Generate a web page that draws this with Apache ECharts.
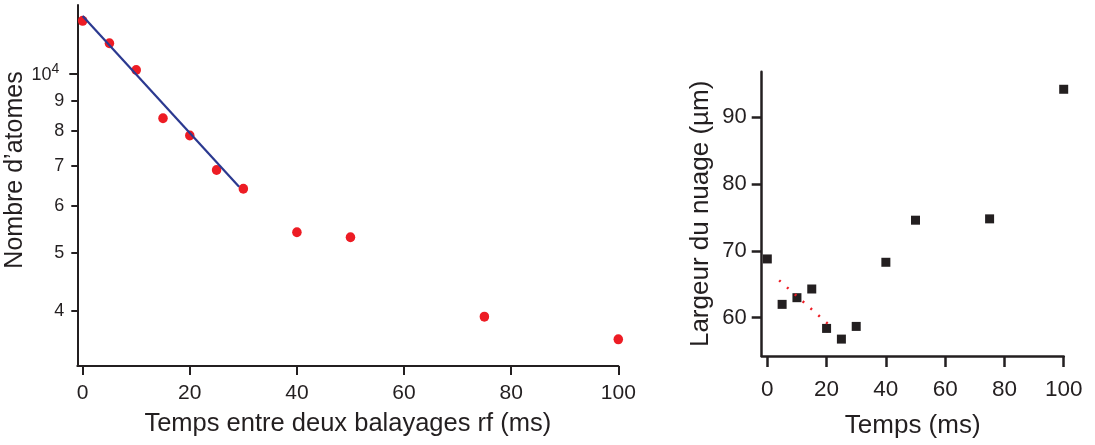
<!DOCTYPE html>
<html>
<head>
<meta charset="utf-8">
<script src="https://cdn.jsdelivr.net/npm/echarts@6/dist/echarts.min.js"></script>
<style>
html,body{margin:0;padding:0;background:#fff;}
#c{width:1095px;height:445px;}
</style>
</head>
<body>
<div id="c"></div>
<script>
// ---- Left chart data ----
const leftT = [0, 5, 10, 15, 20, 25, 30, 40, 50, 75, 100];
const leftN = [12240, 11230, 10130, 8410, 7870, 6890, 6410, 5420, 5314, 3914, 3586];
const leftFitT = [0, 29.2];
const leftFitN = [12470, 6460];
const leftYTickValues = [4000, 5000, 6000, 7000, 8000, 9000, 10000];
const leftYTickLabels = ['4', '5', '6', '7', '8', '9', '{a|10}{s|4}'];
const leftMajorTicks = [10000];
const xTickValues = [0, 20, 40, 60, 80, 100];

// ---- Right chart data ----
const rightT = [0, 5, 10, 15, 20, 25, 30, 40, 50, 75, 100];
const rightW = [68.8, 62.0, 63.0, 64.3, 58.4, 56.8, 58.7, 68.3, 74.6, 74.8, 94.2];
const rightFitT = [4.0, 22.3];
const rightFitW = [65.6, 58.35];
const rightYTickValues = [60, 70, 80, 90];

const INK = '#231f20';
const RED = '#ed1c24';
const BLUE = '#2b3990';
const FONT = "'Liberation Sans', Arial, Helvetica, sans-serif";

const leftMin = 3236, leftMax = 13011;
const lg = v => Math.log10(v);

const chart = echarts.init(document.getElementById('c'), null, {renderer: 'canvas'});

const option = {
  animation: false,
  backgroundColor: '#ffffff',
  textStyle: {fontFamily: FONT, color: INK},
  grid: [
    {left: 77.3, top: 5, width: 541, height: 361, containLabel: false},
    {left: 761.7, top: 71.7, width: 302, height: 284.3, containLabel: false}
  ],
  xAxis: [
    {
      type: 'value', gridIndex: 0, min: -1, max: 100,
      splitLine: {show: false},
      axisLine: {show: true, onZero: false, lineStyle: {color: INK, width: 2}},
      axisTick: {show: true, customValues: xTickValues, length: 9, lineStyle: {color: INK, width: 2}},
      axisLabel: {customValues: xTickValues, margin: 17, fontSize: 21, color: INK, fontFamily: FONT},
      name: 'Temps entre deux balayages rf (ms)',
      nameLocation: 'middle', nameGap: 45,
      nameTextStyle: {fontSize: 25.5, color: INK, fontFamily: FONT}
    },
    {
      type: 'value', gridIndex: 1, min: -1.89, max: 100,
      splitLine: {show: false},
      axisLine: {show: true, onZero: false, lineStyle: {color: INK, width: 2.5}},
      axisTick: {show: true, customValues: xTickValues, length: 11, lineStyle: {color: INK, width: 2.5}},
      axisLabel: {customValues: xTickValues, margin: 22, fontSize: 22.5, color: INK, fontFamily: FONT},
      name: 'Temps (ms)',
      nameLocation: 'middle', nameGap: 57,
      nameTextStyle: {fontSize: 26, color: INK, fontFamily: FONT}
    }
  ],
  yAxis: [
    {
      type: 'log', logBase: 10, gridIndex: 0, position: 'left',
      min: leftMin, max: leftMax, show: false,
      splitLine: {show: false}
    },
    {
      type: 'value', gridIndex: 0, position: 'left',
      min: lg(leftMin), max: lg(leftMax),
      splitLine: {show: false},
      axisLine: {show: true, onZero: false, lineStyle: {color: INK, width: 2}},
      axisTick: {show: true, customValues: leftYTickValues.map(lg), length: 6, lineStyle: {color: INK, width: 2}},
      axisLabel: {
        customValues: leftYTickValues.map(lg), margin: 13, fontSize: 18, color: INK, fontFamily: FONT,
        formatter: function (v) {
          for (let i = 0; i < leftYTickValues.length; i++) {
            if (Math.abs(lg(leftYTickValues[i]) - v) < 1e-6) return leftYTickLabels[i];
          }
          return '';
        },
        rich: {
          a: {fontSize: 18, color: INK, fontFamily: FONT, verticalAlign: 'bottom'},
          s: {fontSize: 14, color: INK, fontFamily: FONT, verticalAlign: 'top', padding: [0, 5, 8, 0]}
        }
      },
      name: 'Nombre d\u2019atomes',
      nameLocation: 'middle', nameGap: 46,
      nameTextStyle: {fontSize: 25, color: INK, fontFamily: FONT, padding: [0, 0, 0, 31]}
    },
    {
      type: 'value', gridIndex: 0, position: 'left',
      min: lg(leftMin), max: lg(leftMax),
      splitLine: {show: false},
      axisLine: {show: false},
      axisTick: {show: true, customValues: leftMajorTicks.map(lg), length: 8, lineStyle: {color: INK, width: 2}},
      axisLabel: {show: false}
    },
    {
      type: 'value', gridIndex: 1, position: 'left',
      min: 54.27, max: 96.83,
      splitLine: {show: false},
      axisLine: {show: true, onZero: false, lineStyle: {color: INK, width: 2.5}},
      axisTick: {show: true, customValues: rightYTickValues, length: 10, lineStyle: {color: INK, width: 2.5}},
      axisLabel: {customValues: rightYTickValues, margin: 15, fontSize: 22, color: INK, fontFamily: FONT},
      name: 'Largeur du nuage (\u00b5m)',
      nameLocation: 'middle', nameGap: 48,
      nameTextStyle: {fontSize: 26, color: INK, fontFamily: FONT}
    }
  ],
  series: [
    {
      type: 'scatter', xAxisIndex: 0, yAxisIndex: 0,
      data: leftT.map((t, i) => [t, leftN[i]]),
      symbol: 'circle', symbolSize: [9.5, 10],
      itemStyle: {color: RED, opacity: 1}, z: 2
    },
    {
      type: 'line', xAxisIndex: 0, yAxisIndex: 0,
      data: leftFitT.map((t, i) => [t, leftFitN[i]]),
      showSymbol: false, symbol: 'none',
      lineStyle: {color: BLUE, width: 2.2}, z: 3
    },
    {
      type: 'scatter', xAxisIndex: 1, yAxisIndex: 3,
      data: rightT.map((t, i) => [t, rightW[i]]),
      symbol: 'rect', symbolSize: 9,
      itemStyle: {color: INK, opacity: 1}, z: 2
    },
    {
      type: 'line', xAxisIndex: 1, yAxisIndex: 3,
      data: rightFitT.map((t, i) => [t, rightFitW[i]]),
      showSymbol: false, symbol: 'none',
      lineStyle: {color: RED, width: 2.5, type: [2, 8.5]}, z: 3
    }
  ]
};

chart.setOption(option);
</script>
</body>
</html>
